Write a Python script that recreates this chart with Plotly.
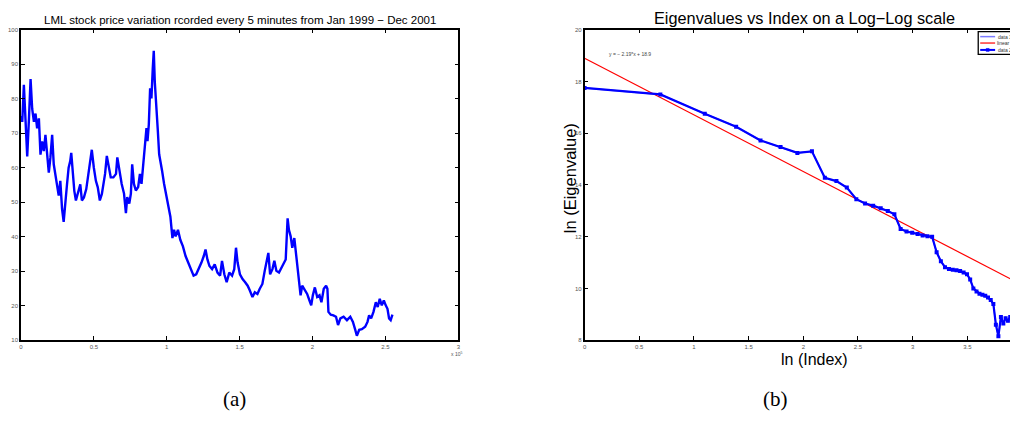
import plotly.graph_objects as go

# ---------------- (a) stock price series (x in units of 1e5 samples) ----------------
price_x = [0.000, 0.009, 0.020, 0.032, 0.043, 0.055, 0.066, 0.077, 0.089, 0.100,
           0.111, 0.123, 0.134, 0.145, 0.157, 0.168, 0.180, 0.191, 0.202, 0.214,
           0.225, 0.236, 0.248, 0.259, 0.270, 0.282, 0.293, 0.304, 0.316, 0.327,
           0.338, 0.345, 0.354, 0.366, 0.377, 0.391, 0.407, 0.418, 0.432, 0.448,
           0.464, 0.477, 0.486, 0.500, 0.514, 0.527, 0.541, 0.555, 0.568,
           0.577, 0.589, 0.600, 0.616, 0.634, 0.652, 0.661, 0.675, 0.691, 0.707,
           0.720, 0.729, 0.743, 0.754, 0.763, 0.775, 0.788, 0.804, 0.816, 0.827,
           0.838, 0.850, 0.861, 0.868, 0.877, 0.886, 0.895, 0.904, 0.911, 0.918,
           0.925, 0.932, 0.939, 0.948, 0.957, 0.968, 0.982, 0.998, 1.011, 1.025,
           1.039, 1.050, 1.061, 1.077, 1.093, 1.111, 1.129, 1.148, 1.166, 1.184,
           1.202, 1.220, 1.238, 1.254, 1.266, 1.279, 1.293, 1.311, 1.329, 1.348,
           1.366, 1.379, 1.395, 1.411, 1.429, 1.448, 1.463, 1.475, 1.486,
           1.502, 1.520, 1.538, 1.555, 1.570, 1.588, 1.604, 1.622, 1.638, 1.656,
           1.672, 1.686, 1.697, 1.709, 1.725, 1.738, 1.752, 1.770, 1.788, 1.804,
           1.816, 1.829, 1.838, 1.850, 1.861, 1.875, 1.884, 1.895, 1.907, 1.918,
           1.929, 1.947, 1.963, 1.979, 1.991, 2.002, 2.016, 2.032, 2.048, 2.061,
           2.077, 2.093, 2.102, 2.109, 2.125, 2.143, 2.161, 2.175, 2.191, 2.213,
           2.236, 2.259, 2.277, 2.293, 2.304, 2.320, 2.338, 2.361, 2.377, 2.388,
           2.402, 2.418, 2.434, 2.447, 2.461, 2.475, 2.489, 2.502, 2.514, 2.525,
           2.536, 2.548]
price_y = [75.0, 73.3, 84.0, 70.5, 63.3, 74.3, 85.7, 77.1, 73.3, 75.7,
           71.4, 74.3, 63.8, 67.6, 64.8, 69.5, 62.9, 58.6, 62.9, 69.5,
           61.0, 58.1, 55.2, 51.9, 56.2, 48.1, 44.3, 50.5, 55.2, 60.0,
           61.9, 64.3, 58.1, 53.3, 50.5, 52.4, 55.2, 50.5, 51.4, 53.8,
           58.1, 61.9, 65.2, 60.0, 56.2, 54.3, 50.5, 52.4, 55.2,
           58.2, 63.4, 61.0, 57.2, 57.2, 58.2, 63.0, 59.1, 55.3, 52.5,
           46.8, 51.5, 49.6, 52.5, 61.0, 55.3, 53.4, 54.4, 58.2, 55.3,
           60.1, 64.9, 71.5, 67.7, 72.5, 83.0, 80.1, 88.7, 93.9, 84.9,
           81.0, 77.2, 70.6, 63.9, 62.0, 59.1, 55.3, 51.5, 49.6, 45.8,
           39.6, 42.0, 40.1, 42.0, 39.1, 37.2, 34.4, 32.5, 30.6, 28.7,
           29.1, 30.6, 32.5, 34.4, 36.3, 33.4, 31.5, 30.6, 32.0, 29.6,
           28.7, 33.0, 29.1, 26.8, 29.6, 28.7, 30.6, 36.8, 32.5,
           29.1, 27.7, 26.8, 25.8, 24.4, 22.5, 23.9, 23.4, 24.9, 26.3,
           30.1, 33.0, 35.3, 29.1, 30.6, 33.0, 30.1, 29.6, 31.0, 32.5,
           33.4, 45.3, 42.0, 40.1, 36.8, 39.6, 36.3, 31.5, 26.8, 23.0,
           25.8, 24.4, 23.4, 21.5, 20.1, 23.0, 25.3, 22.5, 23.0, 21.0,
           24.9, 25.8, 24.9, 18.2, 17.4, 17.2, 16.8, 14.4, 16.3, 16.8,
           15.8, 16.8, 15.3, 13.0, 11.3, 13.0, 13.2, 13.9, 15.3, 17.2,
           16.3, 18.2, 21.0, 19.6, 22.0, 20.1, 21.5, 20.1, 19.1, 16.3,
           15.8, 17.4]

left_xticks = [0, 0.5, 1, 1.5, 2, 2.5, 3]
left_yticks = [10, 20, 30, 40, 50, 60, 70, 80, 90, 100]

# ---------------- (b) eigenvalues, ln-ln ----------------
ln_index = [0.000, 0.693, 1.099, 1.386, 1.609, 1.792, 1.946, 2.079, 2.197, 2.303,
            2.398, 2.485, 2.565, 2.639, 2.708, 2.773, 2.833, 2.890, 2.944, 2.996,
            3.045, 3.091, 3.135, 3.178, 3.219, 3.258, 3.296, 3.332, 3.367, 3.401,
            3.434, 3.466, 3.497, 3.526, 3.555, 3.584, 3.611, 3.638, 3.664, 3.689,
            3.714, 3.738, 3.761, 3.784, 3.807, 3.829, 3.850, 3.871, 3.892, 3.912,
            3.932, 3.951]
ln_eig = [17.75, 17.50, 16.75, 16.25, 15.72, 15.47, 15.24, 15.30, 14.28, 14.15,
          13.90, 13.45, 13.28, 13.20, 13.10, 12.99, 12.87, 12.30, 12.20, 12.15,
          12.10, 12.05, 12.02, 12.00, 11.40, 11.05, 10.82, 10.75, 10.72, 10.70,
          10.67, 10.62, 10.55, 10.35, 10.00, 9.88, 9.80, 9.76, 9.72, 9.65,
          9.55, 9.40, 8.60, 8.15, 8.90, 8.65, 8.85, 8.75, 8.90, 8.85,
          8.90, 8.90]
fit_slope = -2.19
fit_intercept = 18.9
fit_x = [0.0, 3.95]
fit_y = [fit_intercept + fit_slope * v for v in fit_x]

legend_names = ["data 1", "linear", "data 2"]
legend_colors = ["#7b7bff", "#ff0000", "#0000ff"]

right_xticks = [0, 0.5, 1, 1.5, 2, 2.5, 3, 3.5]
right_yticks = [8, 10, 12, 14, 16, 18, 20]

# page body has an 8px margin: figure is placed at (8, 8) in the window
OFF = 8
W, H = 1010, 417
FONT = "Liberation Sans, Arial, sans-serif"
SERIF = "Liberation Serif, DejaVu Serif, serif"


def px(x):
    return (x - OFF) / W


def py(y):
    return 1 - (y - OFF) / H


fig = go.Figure()
fig.add_trace(go.Scatter(x=price_x, y=price_y, mode="lines",
                         line=dict(color="#0000ff", width=2.4),
                         xaxis="x", yaxis="y", showlegend=False))
fig.add_trace(go.Scatter(x=ln_index, y=ln_eig, mode="lines", name=legend_names[0],
                         line=dict(color=legend_colors[0], width=1.5),
                         xaxis="x2", yaxis="y2", showlegend=False))
fig.add_trace(go.Scatter(x=fit_x, y=fit_y, mode="lines", name=legend_names[1],
                         line=dict(color=legend_colors[1], width=1.2),
                         xaxis="x2", yaxis="y2", showlegend=False))
fig.add_trace(go.Scatter(x=ln_index, y=ln_eig, mode="lines+markers", name=legend_names[2],
                         line=dict(color=legend_colors[2], width=2.2),
                         marker=dict(symbol="square", size=4, color=legend_colors[2]),
                         xaxis="x2", yaxis="y2", showlegend=False))

ydom = [py(342), py(27)]
axis_common = dict(showgrid=False, zeroline=False, showline=True, linecolor="black",
                   linewidth=1.5, mirror="ticks", ticks="inside", ticklen=4,
                   tickcolor="black", tickwidth=1,
                   tickfont=dict(size=6, color="#555555", family=FONT))

fig.update_layout(
    width=W, height=H,
    margin=dict(l=0, r=0, t=0, b=0),
    paper_bgcolor="white", plot_bgcolor="white",
    font=dict(family=FONT, color="black"),
    showlegend=False,
    xaxis=dict(domain=[px(17), px(457)], range=[0, 3], tickvals=left_xticks,
               ticktext=[f"{v:g}" for v in left_xticks], anchor="y", **axis_common),
    yaxis=dict(domain=ydom, range=[10, 100], tickvals=left_yticks, anchor="x",
               **axis_common),
    xaxis2=dict(domain=[px(584), 1.0], range=[0, 3.945], tickvals=right_xticks,
                ticktext=[f"{v:g}" for v in right_xticks], anchor="y2", **axis_common),
    yaxis2=dict(domain=ydom, range=[8, 20], tickvals=right_yticks, anchor="x2",
                **axis_common),
)

# legend box (MATLAB style, inside top-right of panel b)
shapes = [dict(type="rect", xref="paper", yref="paper",
               x0=px(980), x1=px(1016), y0=py(52), y1=py(29),
               line=dict(color="black", width=1.3), fillcolor="white", layer="above")]
leg_y = [34, 40.5, 47.5]
leg_w = [1.5, 1.2, 2.0]
for name, col, yy, lw in zip(legend_names, legend_colors, leg_y, leg_w):
    shapes.append(dict(type="line", xref="paper", yref="paper",
                       x0=px(982), x1=px(997), y0=py(yy), y1=py(yy),
                       line=dict(color=col, width=lw), layer="above"))
shapes.append(dict(type="rect", xref="paper", yref="paper",
                   x0=px(988), x1=px(991), y0=py(49), y1=py(46),
                   line=dict(color=legend_colors[2], width=0.5),
                   fillcolor=legend_colors[2], layer="above"))
fig.update_layout(shapes=shapes)

ann = [
    dict(text="LML stock price variation rcorded every 5 minutes from Jan 1999 \u2212 Dec 2001",
         x=px(237), y=py(17), font=dict(size=11.5)),
    dict(text="Eigenvalues vs Index on a Log\u2212Log scale",
         x=px(805), y=py(15), font=dict(size=16.3)),
    dict(text="ln (Index)", x=px(815), y=py(362), font=dict(size=16)),
    dict(text="ln (Eigenvalue)", x=px(569), y=py(178), font=dict(size=16.5),
         textangle=-90),
    dict(text="x 10<sup>5</sup>", x=px(455), y=py(356), font=dict(size=5, color="#555555")),
    dict(text="y = \u2212 2.19*x + 18.9", x=px(607), y=py(52), xanchor="left",
         font=dict(size=5, color="#444444")),
    dict(text=legend_names[0], x=px(998), y=py(34), xanchor="left",
         font=dict(size=5, color="#333333")),
    dict(text=legend_names[1], x=px(1014), y=py(40.5), xanchor="right",
         font=dict(size=5, color="#333333")),
    dict(text=legend_names[2], x=px(998), y=py(47.5), xanchor="left",
         font=dict(size=5, color="#333333")),
    dict(text="(a)", x=px(232), y=py(402), font=dict(size=21, family=SERIF)),
    dict(text="(b)", x=px(776), y=py(402), font=dict(size=21, family=SERIF)),
]
for a in ann:
    a.setdefault("xanchor", "center")
    a.update(xref="paper", yref="paper", showarrow=False, yanchor="middle")
    fig.add_annotation(**a)

fig.write_html("out.html")
